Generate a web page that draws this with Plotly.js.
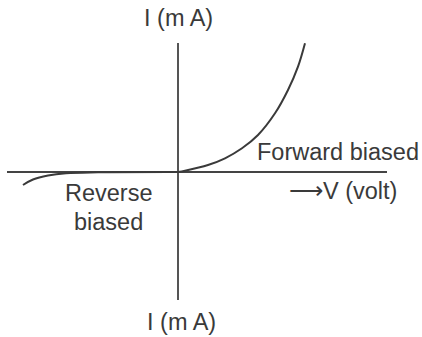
<!DOCTYPE html>
<html>
<head>
<meta charset="utf-8">
<script src="https://cdn.plot.ly/plotly-3.0.1.min.js"></script>
<style>html,body{margin:0;padding:0;background:#fff;}#chart{width:422px;height:337px;}</style>
</head>
<body>
<div id="chart"></div>
<script>
// Forward-bias branch (V in arbitrary units, I in arbitrary units)
const forwardV = [0, 0.07, 0.30, 0.47, 0.64, 0.80, 0.97, 1.10, 1.20, 1.27];
const forwardI = [0, 0.013, 0.07, 0.137, 0.237, 0.37, 0.587, 0.82, 1.053, 1.287];
// Reverse-bias branch
const reverseV = [-1.55, -1.45, -1.30, -1.12, -0.80, 0];
const reverseI = [-0.13, -0.075, -0.035, -0.012, -0.003, 0];
// Axis lines
const vAxisV = [-1.71, 2.09];
const vAxisI = [0, 0];
const iAxisV = [0, 0];
const iAxisI = [1.29, -1.28];
// Labels
const labelTexts = ["I (m A)", "I (m A)", "Forward biased", "Reverse", "biased", "⟶V (volt)"];
const labelV = [0.0, 0.03, 1.60, -0.69, -0.70, 1.65];
const labelI = [1.54, -1.50, 0.20, -0.21, -0.50, -0.19];

const lineColor = '#3a3a3a';
const textColor = '#3a3a3a';
const traces = [
  {x: vAxisV, y: vAxisI, mode: 'lines', line: {color: '#444', width: 2}, hoverinfo: 'skip'},
  {x: iAxisV, y: iAxisI, mode: 'lines', line: {color: '#555', width: 2}, hoverinfo: 'skip'},
  {x: forwardV, y: forwardI, mode: 'lines', line: {color: lineColor, width: 2, shape: 'spline', smoothing: 1}, hoverinfo: 'skip'},
  {x: reverseV, y: reverseI, mode: 'lines', line: {color: lineColor, width: 2, shape: 'spline', smoothing: 1}, hoverinfo: 'skip'}
];
const annotations = labelTexts.map((t, i) => ({
  x: labelV[i], y: labelI[i], xref: 'x', yref: 'y', text: t, showarrow: false,
  font: {family: 'Liberation Sans, Arial, sans-serif', size: 23.5, color: textColor},
  xanchor: 'center', yanchor: 'middle'
}));
const layout = {
  width: 422, height: 337,
  margin: {l: 0, r: 0, t: 0, b: 0},
  paper_bgcolor: '#fff', plot_bgcolor: '#fff',
  showlegend: false,
  xaxis: {range: [-1.78, 2.44], visible: false, fixedrange: true},
  yaxis: {range: [-1.65, 1.72], visible: false, fixedrange: true},
  annotations: annotations
};
Plotly.newPlot('chart', traces, layout, {staticPlot: true});
</script>
</body>
</html>
